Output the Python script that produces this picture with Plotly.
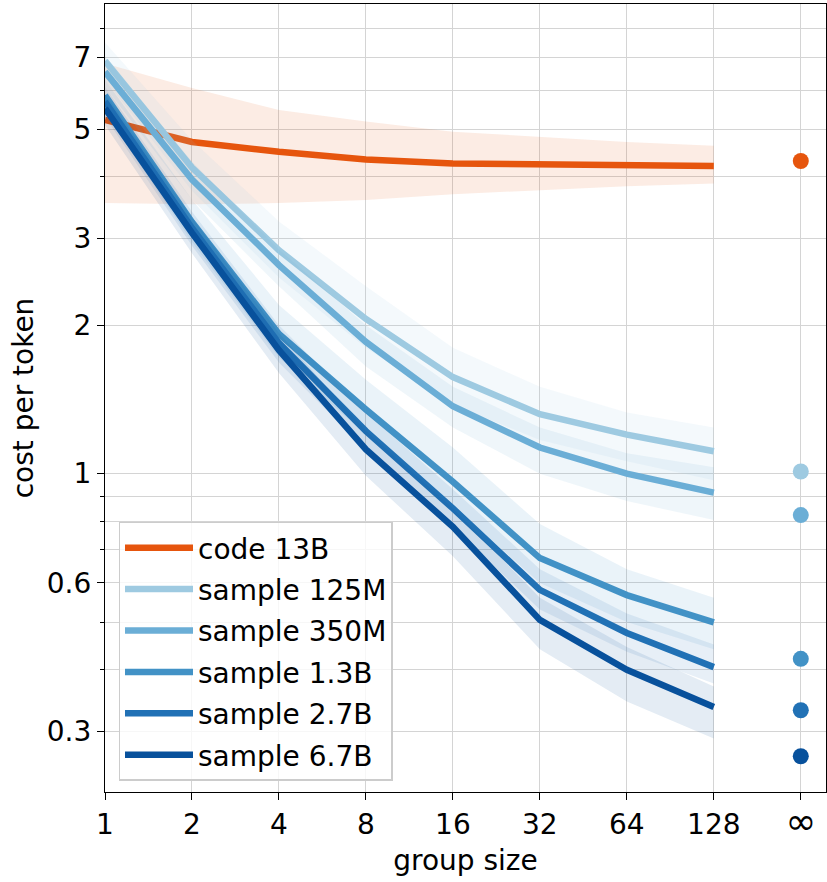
import plotly.graph_objects as go

# ---------------- data ----------------
group_sizes = [1, 2, 4, 8, 16, 32, 64, 128]
inf_position = 256  # where the "∞" column sits on the log2 group-size axis
x_tick_vals = [1, 2, 4, 8, 16, 32, 64, 128, 256]
x_tick_text = ["1", "2", "4", "8", "16", "32", "64", "128",
               "<span style='font-size:37px'>∞</span>"]
y_tick_vals = [0.3, 0.6, 1, 2, 3, 5, 7]
y_minor_vals = [0.4, 0.5, 0.7, 0.8, 0.9, 4, 6, 8]

code_13b = [5.22, 4.71, 4.50, 4.34, 4.26, 4.24, 4.23, 4.21]
code_13b_hi = [6.80, 6.06, 5.47, 5.18, 4.94, 4.83, 4.71, 4.63]
code_13b_lo = [3.54, 3.52, 3.54, 3.59, 3.69, 3.76, 3.83, 3.88]
code_13b_inf = 4.31

sample_125m = [6.88, 4.18, 2.84, 2.06, 1.57, 1.32, 1.20, 1.11]
sample_125m_hi = [7.50, 4.75, 3.25, 2.40, 1.80, 1.50, 1.33, 1.24]
sample_125m_lo = [6.30, 3.75, 2.50, 1.80, 1.38, 1.17, 1.06, 0.97]
sample_125m_inf = 1.01

sample_350m = [6.54, 3.95, 2.65, 1.85, 1.37, 1.13, 1.00, 0.915]
sample_350m_hi = [7.00, 4.30, 2.85, 2.00, 1.50, 1.24, 1.10, 1.03]
sample_350m_lo = [6.10, 3.60, 2.40, 1.65, 1.24, 1.00, 0.88, 0.805]
sample_350m_inf = 0.824

sample_1_3b = [5.86, 3.24, 1.92, 1.35, 0.963, 0.674, 0.567, 0.499]
sample_1_3b_hi = [6.30, 3.60, 2.20, 1.55, 1.13, 0.79, 0.64, 0.56]
sample_1_3b_lo = [5.40, 2.95, 1.72, 1.20, 0.86, 0.60, 0.50, 0.44]
sample_1_3b_inf = 0.421

sample_2_7b = [5.69, 3.15, 1.84, 1.22, 0.85, 0.581, 0.475, 0.405]
sample_2_7b_hi = [6.10, 3.40, 2.00, 1.33, 0.93, 0.64, 0.52, 0.45]
sample_2_7b_lo = [5.30, 2.90, 1.68, 1.12, 0.78, 0.53, 0.435, 0.375]
sample_2_7b_inf = 0.331

sample_6_7b = [5.51, 3.08, 1.78, 1.12, 0.78, 0.505, 0.40, 0.336]
sample_6_7b_hi = [5.90, 3.30, 1.93, 1.22, 0.85, 0.56, 0.445, 0.37]
sample_6_7b_lo = [5.10, 2.80, 1.60, 0.99, 0.68, 0.44, 0.345, 0.29]
sample_6_7b_inf = 0.267

series_names = ["code 13B", "sample 125M", "sample 350M", "sample 1.3B",
                "sample 2.7B", "sample 6.7B"]
series_values = [code_13b, sample_125m, sample_350m, sample_1_3b,
                 sample_2_7b, sample_6_7b]
series_hi = [code_13b_hi, sample_125m_hi, sample_350m_hi, sample_1_3b_hi,
             sample_2_7b_hi, sample_6_7b_hi]
series_lo = [code_13b_lo, sample_125m_lo, sample_350m_lo, sample_1_3b_lo,
             sample_2_7b_lo, sample_6_7b_lo]
series_inf = [code_13b_inf, sample_125m_inf, sample_350m_inf, sample_1_3b_inf,
              sample_2_7b_inf, sample_6_7b_inf]

# ---------------- style ----------------
series_colors = ["#e6550d", "#9ecae1", "#6baed6", "#4292c6", "#2171b5", "#08519c"]
FONT = "DejaVu Sans"
FS = 28
GRID = "#d4d4d4"


def rgba(hex_color, a):
    h = hex_color.lstrip("#")
    r, g, b = int(h[0:2], 16), int(h[2:4], 16), int(h[4:6], 16)
    return f"rgba({r},{g},{b},{a})"


fig = go.Figure()

for name, vals, hi, lo, inf_v, col in zip(series_names, series_values, series_hi,
                                         series_lo, series_inf, series_colors):
    # uncertainty band
    fig.add_trace(go.Scatter(
        x=group_sizes + group_sizes[::-1],
        y=hi + lo[::-1],
        fill="toself",
        fillcolor=rgba(col, 0.11),
        line=dict(width=0, color="rgba(0,0,0,0)"),
        hoverinfo="skip",
        showlegend=False,
    ))
    # mean curve
    fig.add_trace(go.Scatter(
        x=group_sizes, y=vals, mode="lines", name=name,
        line=dict(color=col, width=6.5),
        legendgroup=name,
    ))
    # infinite group size
    fig.add_trace(go.Scatter(
        x=[inf_position], y=[inf_v], mode="markers",
        marker=dict(color=col, size=16, line=dict(width=0)),
        showlegend=False, legendgroup=name,
    ))

axis_common = dict(
    showline=True, linecolor="black", linewidth=1.3, mirror=True,
    ticks="outside", ticklen=7, tickwidth=1.3, tickcolor="black",
    showgrid=True, gridcolor=GRID, gridwidth=1.2,
    zeroline=False, automargin=False,
    tickfont=dict(family=FONT, size=FS, color="black"),
)

fig.update_layout(
    width=827, height=882,
    margin=dict(l=105, r=1, t=4, b=90),
    paper_bgcolor="white", plot_bgcolor="white",
    font=dict(family=FONT, size=FS, color="black"),
    xaxis=dict(
        type="log", range=[0, 2.4955],
        tickmode="array", tickvals=x_tick_vals, ticktext=x_tick_text,
        title=dict(text="group size", font=dict(family=FONT, size=FS), standoff=8),
        **axis_common,
    ),
    yaxis=dict(
        type="log", range=[-0.646, 0.953],
        tickmode="array", tickvals=y_tick_vals,
        ticktext=[str(v) for v in y_tick_vals],
        title=dict(text="cost per token", font=dict(family=FONT, size=FS), standoff=4),
        minor=dict(tickmode="array", tickvals=y_minor_vals, ticks="outside",
                   ticklen=4, tickwidth=1.1, tickcolor="black",
                   showgrid=True, gridcolor=GRID, gridwidth=1.2),
        **axis_common,
    ),
    legend=dict(
        x=0.019, y=0.343, xanchor="left", yanchor="top",
        bgcolor="rgba(255,255,255,0.8)", bordercolor="#cccccc", borderwidth=1.3,
        font=dict(family=FONT, size=FS),
        tracegroupgap=2, itemwidth=68,
        entrywidth=280, entrywidthmode="pixels",
    ),
)

fig.write_html("out.html",
               config={"displayModeBar": False},
               post_script="document.body.style.margin='0';document.body.style.overflow='hidden';")
